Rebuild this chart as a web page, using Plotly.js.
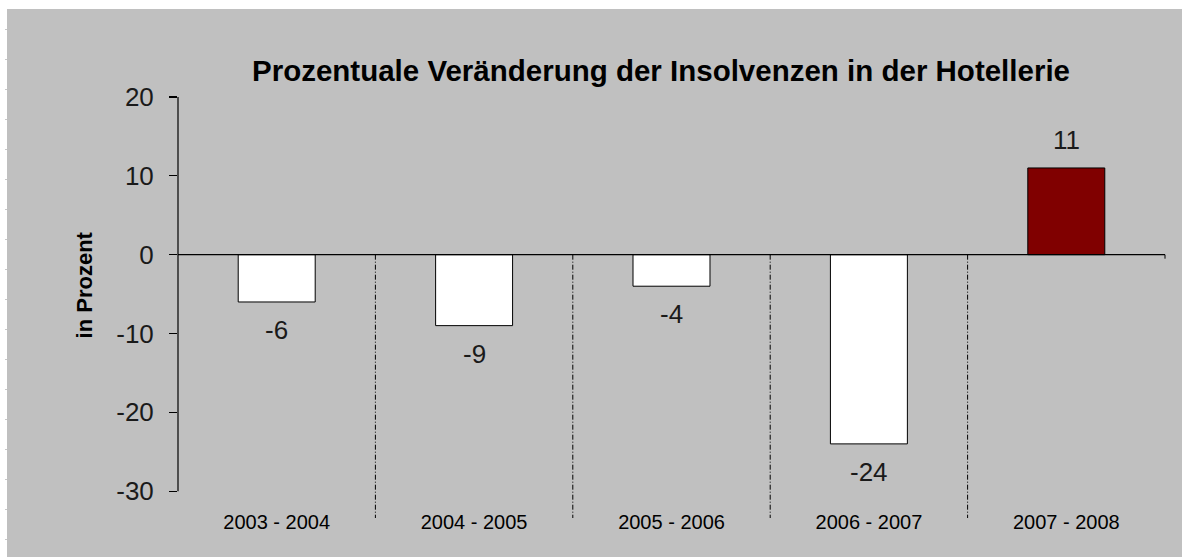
<!DOCTYPE html>
<html>
<head>
<meta charset="utf-8">
<script src="https://cdn.plot.ly/plotly-3.0.1.min.js"></script>
<style>
html,body{margin:0;padding:0;background:#ffffff;width:1182px;height:557px;overflow:hidden;}
#chart{position:absolute;left:7px;top:9px;width:1175px;height:548px;}
#ruler{position:absolute;left:5px;top:0;width:2px;height:557px;
background:repeating-linear-gradient(to bottom, transparent 0px, transparent 29px, #c8c8c8 29px, #c8c8c8 30px);}
</style>
</head>
<body>
<div id="ruler"></div>
<div id="chart"></div>
<script>
const categories = ["2003 - 2004", "2004 - 2005", "2005 - 2006", "2006 - 2007", "2007 - 2008"];
const values = [-6, -9, -4, -24, 11];
const barColors = ["#ffffff", "#ffffff", "#ffffff", "#ffffff", "#800000"];
const yTicks = [-30, -20, -10, 0, 10, 20];
const yTitle = "in Prozent";

const FONT = "Liberation Sans, Arial, sans-serif";

const trace = {
  type: "bar",
  x: categories,
  y: values,
  width: 0.39,
  marker: {color: barColors, line: {color: "#000000", width: 1}},
  hoverinfo: "none"
};

const annotations = values.map((v, i) => ({
  x: categories[i], y: v, xref: "x", yref: "y",
  text: String(v), showarrow: false,
  xanchor: "center", yanchor: "middle",
  yshift: v < 0 ? -28 : 28,
  font: {family: FONT, size: 26, color: "#1a1a1a"}
}));
annotations.push({
  text: yTitle, xref: "paper", yref: "paper", x: -0.095, y: 0.553,
  xanchor: "center", yanchor: "middle", showarrow: false, textangle: -90,
  font: {family: FONT, size: 22, color: "#000000", weight: "bold"}
});

const shapes = [];
for (let i = 0; i < categories.length - 1; i++) {
  shapes.push({type: "line", xref: "x", yref: "y", x0: i + 0.5, x1: i + 0.5, y0: 0, y1: -33.4,
    line: {color: "#000000", width: 1, dash: "5px,2px,1px,2px"}});
}
// y axis line from -30 to 20
shapes.push({type: "line", xref: "paper", yref: "y", x0: 0, x1: 0, y0: yTicks[0], y1: yTicks[yTicks.length - 1],
  line: {color: "#000000", width: 1.2}});
// zero line
shapes.push({type: "line", xref: "paper", yref: "y", x0: 0, x1: 1, y0: 0, y1: 0,
  line: {color: "#000000", width: 1.2}, layer: "above"});
// small end tick on the zero line
shapes.push({type: "line", xref: "paper", yref: "y", ysizemode: "pixel", yanchor: 0,
  x0: 1, x1: 1, y0: 0, y1: -4, line: {color: "#000000", width: 1}});

const layout = {
  width: 1175, height: 548,
  paper_bgcolor: "#c0c0c0",
  plot_bgcolor: "#c0c0c0",
  margin: {l: 171, r: 17, t: 88, b: 39},
  showlegend: false,
  bargap: 0,
  title: {text: "Prozentuale Veränderung der Insolvenzen in der Hotellerie",
    font: {family: FONT, size: 29.5, color: "#000000", weight: "bold"},
    x: 654 / 1175, xanchor: "center", y: 1 - 62 / 548, yanchor: "middle"},
  xaxis: {
    type: "category",
    range: [-0.5, 4.5],
    showgrid: false, zeroline: false, showline: false,
    ticks: "", ticklabelstandoff: -10,
    tickfont: {family: FONT, size: 20, color: "#000000"}
  },
  yaxis: {
    range: [-33.4, 20],
    tickvals: yTicks,
    ticktext: yTicks.map(String),
    showgrid: false, zeroline: false, showline: false,
    ticks: "outside", ticklen: 8, tickcolor: "#000000", tickwidth: 1.2,
    ticklabelstandoff: 10,
    tickfont: {family: FONT, size: 26, color: "#1a1a1a"}
  },
  annotations: annotations,
  shapes: shapes
};

Plotly.newPlot("chart", [trace], layout, {displayModeBar: false, staticPlot: true});
</script>
</body>
</html>
